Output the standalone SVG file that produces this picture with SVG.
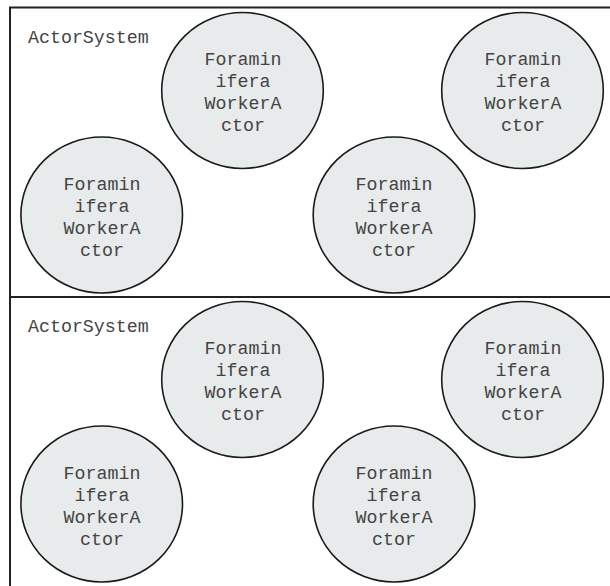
<svg xmlns="http://www.w3.org/2000/svg" width="610" height="586" viewBox="0 0 610 586">
<style>
.box{fill:#fff;stroke:#222;stroke-width:2}
.act{fill:#e8ebeb;stroke:#1a1a1a;stroke-width:1.6}
text{font-family:"Courier New","Nimbus Mono PS","Liberation Mono",monospace;font-size:18.3px;fill:#444}
.c{text-anchor:middle}
</style>
<rect width="610" height="586" fill="#fff"/>
<g id="system1">
<rect class="box" x="10" y="7.5" width="620" height="289.5"/>
<text x="28" y="43.3">ActorSystem</text>
</g>
<g id="system2">
<rect class="box" x="10" y="297" width="620" height="310"/>
<text x="28" y="332.3">ActorSystem</text>
</g>
<g id="actor1a">
<ellipse class="act" cx="242.5" cy="90.5" rx="80.8" ry="78"/>
<text class="c" x="243" y="65">Foramin</text><text class="c" x="243" y="87">ifera</text><text class="c" x="243" y="109">WorkerA</text><text class="c" x="243" y="131">ctor</text>
</g>
<g id="actor1b">
<ellipse class="act" cx="522.5" cy="90.5" rx="80.8" ry="78"/>
<text class="c" x="523" y="65">Foramin</text><text class="c" x="523" y="87">ifera</text><text class="c" x="523" y="109">WorkerA</text><text class="c" x="523" y="131">ctor</text>
</g>
<g id="actor1c">
<ellipse class="act" cx="101.7" cy="215" rx="80.8" ry="78"/>
<text class="c" x="102" y="190">Foramin</text><text class="c" x="102" y="212">ifera</text><text class="c" x="102" y="234">WorkerA</text><text class="c" x="102" y="256">ctor</text>
</g>
<g id="actor1d">
<ellipse class="act" cx="394" cy="215" rx="80.8" ry="78"/>
<text class="c" x="394" y="190">Foramin</text><text class="c" x="394" y="212">ifera</text><text class="c" x="394" y="234">WorkerA</text><text class="c" x="394" y="256">ctor</text>
</g>
<g id="actor2a">
<ellipse class="act" cx="242.5" cy="379.5" rx="80.8" ry="78"/>
<text class="c" x="243" y="354">Foramin</text><text class="c" x="243" y="376">ifera</text><text class="c" x="243" y="398">WorkerA</text><text class="c" x="243" y="420">ctor</text>
</g>
<g id="actor2b">
<ellipse class="act" cx="522.5" cy="379.5" rx="80.8" ry="78"/>
<text class="c" x="523" y="354">Foramin</text><text class="c" x="523" y="376">ifera</text><text class="c" x="523" y="398">WorkerA</text><text class="c" x="523" y="420">ctor</text>
</g>
<g id="actor2c">
<ellipse class="act" cx="101.7" cy="504" rx="80.8" ry="78"/>
<text class="c" x="102" y="479">Foramin</text><text class="c" x="102" y="501">ifera</text><text class="c" x="102" y="523">WorkerA</text><text class="c" x="102" y="545">ctor</text>
</g>
<g id="actor2d">
<ellipse class="act" cx="394" cy="504" rx="80.8" ry="78"/>
<text class="c" x="394" y="479">Foramin</text><text class="c" x="394" y="501">ifera</text><text class="c" x="394" y="523">WorkerA</text><text class="c" x="394" y="545">ctor</text>
</g>
<g id="connectors"/>
</svg>
